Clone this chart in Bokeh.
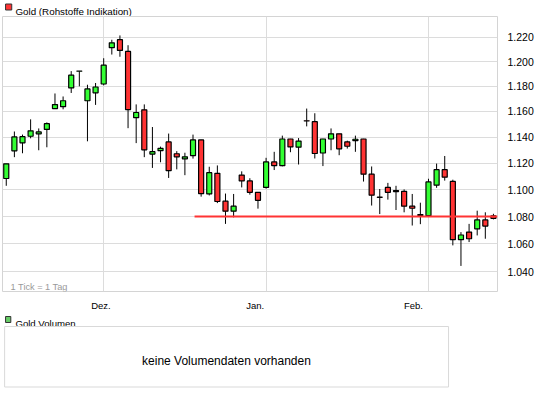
from bokeh.plotting import figure
from bokeh.layouts import column
from bokeh.models import Range1d, FixedTicker, ColumnDataSource, PrintfTickFormatter, CustomJSTickFormatter
from bokeh.embed import file_html
from bokeh.resources import INLINE
from bokeh.core.properties import value

# ---------------- data ----------------
opens = [1.1083, 1.1294, 1.1355, 1.1406, 1.1425, 1.1459, 1.1623, 1.1638, 1.1787, 1.1922,
         1.1685, 1.1748, 1.1819, 1.2115, 1.2181, 1.2084, 1.1551, 1.1613, 1.1269, 1.1295,
         1.1362, 1.1271, 1.1232, 1.1257, 1.1378, 1.0967, 1.1122, 1.0913, 1.0839, 1.1109,
         1.1065, 1.0979, 1.1016, 1.1209, 1.1180, 1.1385, 1.1322, 1.1527, 1.1520, 1.1277,
         1.1385, 1.1425, 1.1362, 1.1372, 1.1385, 1.1116, 1.0943, 1.1016, 1.0993, 1.0987,
         1.0876, 1.0815, 1.0806, 1.1033, 1.1150, 1.1061, 1.0631, 1.0686, 1.0710, 1.0775,
         1.0804]
highs = [1.1194, 1.1443, 1.1419, 1.1538, 1.1467, 1.1514, 1.1743, 1.1719, 1.1923, 1.1923,
         1.1813, 1.1827, 1.2028, 1.2180, 1.2216, 1.2135, 1.1656, 1.1656, 1.1478, 1.1326,
         1.1427, 1.1291, 1.1279, 1.1419, 1.1378, 1.1172, 1.1182, 1.0970, 1.0967, 1.1137,
         1.1085, 1.0981, 1.1240, 1.1286, 1.1411, 1.1386, 1.1392, 1.1623, 1.1586, 1.1386,
         1.1467, 1.1426, 1.1372, 1.1411, 1.1386, 1.1174, 1.1004, 1.1050, 1.1028, 1.1001,
         1.0967, 1.0902, 1.1081, 1.1196, 1.1254, 1.1074, 1.0686, 1.0746, 1.0843, 1.0831,
         1.0820]
lows = [1.1028, 1.1245, 1.1275, 1.1390, 1.1298, 1.1321, 1.1623, 1.1617, 1.1747, 1.1800,
        1.1367, 1.1652, 1.1808, 1.2058, 1.2040, 1.1469, 1.1353, 1.1245, 1.1163, 1.1206,
        1.1087, 1.1152, 1.1108, 1.1234, 1.0947, 1.0956, 1.0899, 1.0746, 1.0794, 1.1016,
        1.0962, 1.0858, 1.1007, 1.1147, 1.1175, 1.1283, 1.1189, 1.1483, 1.1235, 1.1177,
        1.1298, 1.1260, 1.1311, 1.1286, 1.1060, 1.0881, 1.0818, 1.0925, 1.0848, 1.0831,
        1.0734, 1.0744, 1.0800, 1.1013, 1.1067, 1.0590, 1.0443, 1.0614, 1.0662, 1.0638,
        1.0779]
closes = [1.1194, 1.1401, 1.1403, 1.1448, 1.1440, 1.1504, 1.1655, 1.1685, 1.1890, 1.1923,
          1.1779, 1.1795, 1.1971, 1.2155, 1.2092, 1.1615, 1.1592, 1.1301, 1.1287, 1.1313,
          1.1142, 1.1248, 1.1248, 1.1378, 1.0969, 1.1127, 1.0911, 1.0839, 1.0876, 1.1065,
          1.0979, 1.0920, 1.1209, 1.1180, 1.1385, 1.1324, 1.1369, 1.1526, 1.1273, 1.1385,
          1.1425, 1.1309, 1.1329, 1.1383, 1.1116, 1.0958, 1.0942, 1.0979, 1.0985, 1.0876,
          1.0861, 1.0808, 1.1057, 1.1150, 1.1093, 1.0631, 1.0665, 1.0638, 1.0775, 1.0730,
          1.0787]

month_tick_idx = [12, 32, 52]          # first trading day of month (grid lines)
month_labels = ["Dez.", "Jan.", "Feb."]
price_ticks = [1.04, 1.06, 1.08, 1.10, 1.12, 1.14, 1.16, 1.18, 1.20, 1.22]
support_level = 1.08
support_start = 23.19
title_text = "Gold (Rohstoffe Indikation)"
tick_note = "1 Tick = 1 Tag"
volume_title = "Gold Volumen"
volume_note = "keine Volumendaten vorhanden"

# ---------------- styles ----------------
GREEN = "#33ff33"
RED = "#ff3333"
GRID = "#dcdcdc"
FONT = "Liberation Sans"
W = 536
X_START, X_END = -0.463, 60.5
Y_START, Y_END = 1.02629, 1.23743
label_shift = [-0.34, -1.34, -1.85]

idx = list(range(len(opens)))
src = ColumnDataSource(dict(
    x=idx,
    top=[max(o, c) for o, c in zip(opens, closes)],
    bottom=[min(o, c) for o, c in zip(opens, closes)],
    high=highs, low=lows,
    color=[GREEN if c >= o else RED for o, c in zip(opens, closes)],
))

# ---- top legend strip ----
fa = figure(width=W, height=16, x_range=Range1d(0, W), y_range=Range1d(16, 0),
            x_axis_type=None, y_axis_type=None, output_backend="svg",
            toolbar_location=None, min_border=0, title=None)
fa.outline_line_color = None
fa.quad(left=[3.3], right=[10], top=[3.5], bottom=[9.5], fill_color=RED,
        line_color="#333333", line_width=1)
fa.text(x=[14], y=[11], text=[title_text], text_font=value(FONT),
        text_font_size="9.8px", text_color="#000000", text_baseline="alphabetic")

# ---- main candlestick chart ----
p = figure(width=W, height=297, x_range=Range1d(X_START, X_END),
           y_range=Range1d(Y_START, Y_END), y_axis_type="log",
           y_axis_location="right", output_backend="svg", toolbar_location=None,
           min_border_left=2, min_border_right=34, min_border_top=0,
           min_border_bottom=20, title=None)
p.outline_line_color = "#d4d4d4"
p.background_fill_color = "white"
p.border_fill_color = "white"

p.yaxis.ticker = FixedTicker(ticks=price_ticks)
p.yaxis.formatter = PrintfTickFormatter(format="%.3f")
p.ygrid.ticker = FixedTicker(ticks=price_ticks)
p.xaxis.ticker = FixedTicker(ticks=[t + s for t, s in zip(month_tick_idx, label_shift)])
p.xaxis.formatter = CustomJSTickFormatter(args=dict(labels=month_labels),
                                          code="return labels[index];")
p.xgrid.ticker = FixedTicker(ticks=month_tick_idx)
for g in (p.xgrid, p.ygrid):
    g.grid_line_color = GRID
    g.grid_line_width = 1
for ax in (p.xaxis, p.yaxis):
    ax.axis_line_color = None
    ax.major_tick_line_color = None
    ax.minor_tick_line_color = None
    ax.major_label_text_font = FONT
    ax.major_label_text_color = "#000000"
p.yaxis.major_label_text_font_size = "10.5px"
p.yaxis.major_label_standoff = 4
p.xaxis.major_label_text_font_size = "9.5px"
p.xaxis.major_label_standoff = 2

p.segment(x0="x", y0="high", x1="x", y1="low", source=src, line_color="black", line_width=1)
p.vbar(x="x", width=0.62, top="top", bottom="bottom", source=src,
       fill_color="color", line_color="black", line_width=1.2)
p.segment(x0=[support_start], y0=[support_level], x1=[X_END], y1=[support_level],
          line_color=RED, line_width=2)
p.text(x=[0.536], y=[1.0291], text=[tick_note], text_font=value(FONT),
       text_font_size="9.2px", text_color="#999999", text_baseline="alphabetic")

# ---- volume panel ----
fc = figure(width=W, height=75, x_range=Range1d(0, W), y_range=Range1d(75, 0),
            x_axis_type=None, y_axis_type=None, output_backend="svg",
            toolbar_location=None, min_border=0, title=None)
fc.outline_line_color = None
fc.quad(left=[3.3], right=[9], top=[3], bottom=[9], fill_color="#66cc66",
        line_color="#333333", line_width=1)
fc.text(x=[14], y=[9.8], text=[volume_title], text_font=value(FONT),
        text_font_size="9.6px", text_color="#000000", text_baseline="alphabetic")
fc.quad(left=[2.3], right=[483], top=[13], bottom=[73.5], fill_color=None,
        line_color="#d9d9d9", line_width=1)
fc.text(x=[242.5], y=[47], text=[volume_note], text_font=value(FONT),
        text_font_size="12px", text_color="#000000", text_align="center",
        text_baseline="alphabetic")

layout = column(fa, p, fc, spacing=0)
open("out.html", "w").write(file_html(layout, INLINE))
